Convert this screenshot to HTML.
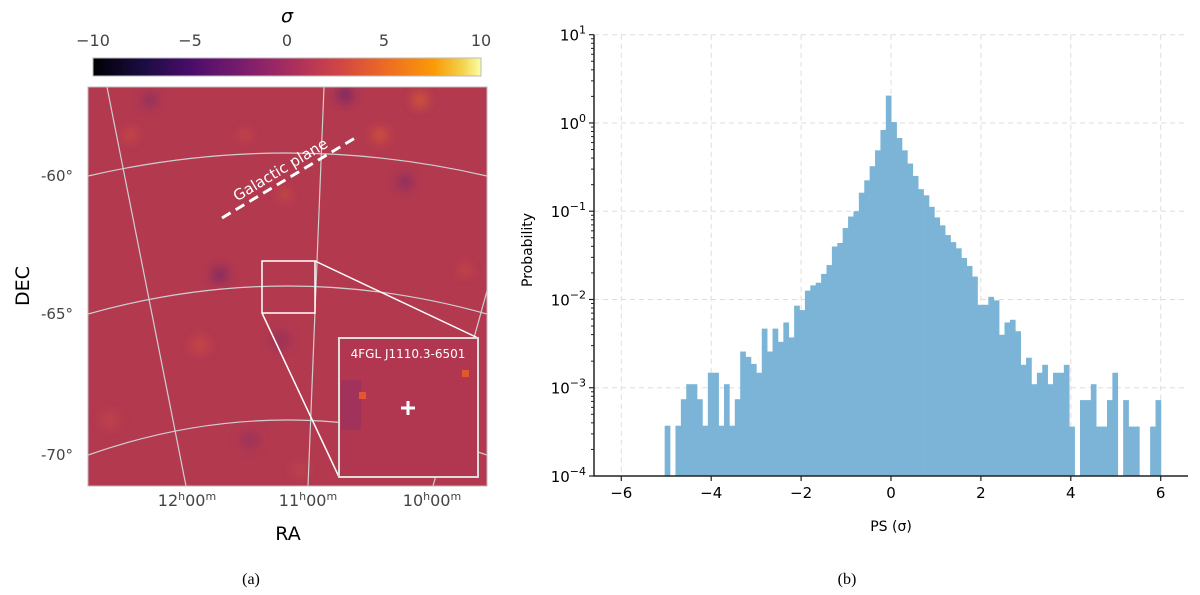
<!DOCTYPE html>
<html><head><meta charset="utf-8"><style>
html,body{margin:0;padding:0;background:#fff;}
svg{display:block;font-family:"DejaVu Sans","Liberation Sans",sans-serif;}
</style></head><body>
<svg width="1200" height="595" viewBox="0 0 1200 595" xmlns="http://www.w3.org/2000/svg">
<defs>
<linearGradient id="inferno" x1="0" x2="1" y1="0" y2="0">
<stop offset="0" stop-color="#000004"/><stop offset="0.13" stop-color="#1b0c41"/>
<stop offset="0.25" stop-color="#4a0c6b"/><stop offset="0.38" stop-color="#781c6d"/>
<stop offset="0.5" stop-color="#a52c60"/><stop offset="0.63" stop-color="#cf4446"/>
<stop offset="0.75" stop-color="#ed6925"/><stop offset="0.88" stop-color="#fb9b06"/>
<stop offset="0.95" stop-color="#f3d04a"/><stop offset="1" stop-color="#fcffa4"/>
</linearGradient>
<filter id="blur"><feGaussianBlur stdDeviation="5"/></filter>
<clipPath id="mapclip"><rect x="88" y="87" width="399" height="399"/></clipPath>
</defs>

<g>
<text x="287" y="22" font-size="19" font-style="italic" text-anchor="middle">σ</text>
<g font-size="16" fill="#444" text-anchor="middle">
<text x="93" y="46">−10</text><text x="190" y="46">−5</text><text x="287" y="46">0</text><text x="384" y="46">5</text><text x="481" y="46">10</text>
</g>
<rect x="93" y="58" width="388" height="18" fill="url(#inferno)" stroke="#bbb"/>
</g>

<g>
<g clip-path="url(#mapclip)">
<rect x="88" y="87" width="399" height="399" fill="#b3394f"/>
<g filter="url(#blur)" opacity="0.55">
<circle cx="150" cy="100" r="8" fill="#7a2a6a"/>
<circle cx="345" cy="95" r="9" fill="#5e2270"/>
<circle cx="220" cy="275" r="9" fill="#6a2470"/>
<circle cx="405" cy="182" r="9" fill="#7a2a6a"/>
<circle cx="280" cy="340" r="10" fill="#8a2f62"/>
<circle cx="250" cy="440" r="10" fill="#8f3060"/>
<circle cx="420" cy="100" r="8" fill="#e86a2a"/>
<circle cx="380" cy="135" r="8" fill="#e6622f"/>
<circle cx="130" cy="135" r="7" fill="#d8553a"/>
<circle cx="200" cy="345" r="9" fill="#d4503c"/>
<circle cx="285" cy="195" r="6" fill="#db5a37"/>
<circle cx="245" cy="135" r="6" fill="#d4503c"/>
<circle cx="465" cy="270" r="6" fill="#d4503c"/>
<circle cx="110" cy="420" r="9" fill="#c9484a"/>
<circle cx="300" cy="470" r="8" fill="#c9484a"/>
</g>
<g fill="none" stroke="#cfcfcf" stroke-width="1.2">
<line x1="107" y1="87" x2="186" y2="486"/>
<line x1="324" y1="87" x2="308" y2="486"/>
<line x1="490" y1="280" x2="433" y2="486"/>
<path d="M88,176 Q287,130 487,176"/>
<path d="M88,314 Q287,258 487,314"/>
<path d="M88,455 Q287,385 487,455"/>
</g>
</g>
<rect x="88" y="87" width="399" height="399" fill="none" stroke="#bbb"/>
<line x1="222" y1="218" x2="355" y2="138" stroke="#fff" stroke-width="3" stroke-dasharray="10,6"/>
<text x="0" y="0" transform="translate(283,174) rotate(-31)" fill="#fff" font-size="15" text-anchor="middle">Galactic plane</text>
<rect x="262" y="261" width="53" height="52" fill="none" stroke="#fff" stroke-width="1.5"/>
<line x1="315" y1="261" x2="478" y2="338" stroke="#fff" stroke-width="1.5"/>
<line x1="262" y1="313" x2="339" y2="477" stroke="#fff" stroke-width="1.5"/>
<g>
<rect x="339" y="338" width="139" height="139" fill="#b13650" stroke="#ddd" stroke-width="2"/>
<rect x="341" y="380" width="20" height="50" fill="#9a3160" opacity="0.7"/>
<rect x="359" y="392" width="7" height="7" fill="#e2572e"/>
<rect x="462" y="370" width="7" height="7" fill="#e2572e"/>
<text x="408" y="358" fill="#fff" font-size="12" text-anchor="middle">4FGL J1110.3-6501</text>
<path d="M408,401 V415 M401,408 H415" stroke="#fff" stroke-width="3"/>
</g>
<g font-size="15" fill="#444">
<text x="41" y="181">-60°</text><text x="41" y="319">-65°</text><text x="41" y="460">-70°</text>
</g>
<g font-size="16" fill="#444" text-anchor="middle">
<text x="187" y="506">12<tspan font-size="11" dy="-6">h</tspan><tspan dy="6">00</tspan><tspan font-size="11" dy="-6">m</tspan></text>
<text x="308" y="506">11<tspan font-size="11" dy="-6">h</tspan><tspan dy="6">00</tspan><tspan font-size="11" dy="-6">m</tspan></text>
<text x="432" y="506">10<tspan font-size="11" dy="-6">h</tspan><tspan dy="6">00</tspan><tspan font-size="11" dy="-6">m</tspan></text>
</g>
<text x="0" y="0" transform="translate(29,286) rotate(-90)" font-size="19" text-anchor="middle">DEC</text>
<text x="288" y="540" font-size="19" text-anchor="middle">RA</text>
</g>
<text x="251" y="584" font-size="16" font-family="Liberation Serif, serif" text-anchor="middle">(a)</text>
<text x="847" y="584" font-size="16" font-family="Liberation Serif, serif" text-anchor="middle">(b)</text>

<g id="hist"></g>

<script>
const binStart = -5.035;
const binWidth = 0.12;
const logProb = [
-3.43,null,-3.43,-3.13,-2.96,-2.96,-3.13,-3.43,-2.83,-2.83,-3.43,-2.96,-3.43,-3.13,-2.59,-2.65,-2.73,-2.83,-2.33,-2.59,
-2.33,-2.48,-2.26,-2.43,-2.07,-2.12,-1.90,-1.84,-1.81,-1.71,-1.61,-1.40,-1.36,-1.19,-1.06,-1.00,-0.79,-0.65,-0.49,-0.31,
-0.08,0.31,0.01,-0.17,-0.31,-0.46,-0.60,-0.75,-0.82,-0.95,-1.07,-1.16,-1.27,-1.35,-1.42,-1.53,-1.62,-1.74,-2.06,-2.06,
-1.97,-2.01,-2.40,-2.26,-2.23,-2.36,-2.74,-2.66,-2.96,-2.83,-2.74,-2.96,-2.83,-2.83,-2.74,-3.44,null,-3.14,-3.14,-2.96,
-3.44,-3.44,-3.14,-2.83,null,-3.14,-3.44,-3.44,null,null,-3.44,-3.14
];
const xTicks = [-6,-4,-2,0,2,4,6];
const xTickLabels = ["−6","−4","−2","0","2","4","6"];
const yDecades = [1,0,-1,-2,-3,-4];
const yExpLabels = ["1","0","−1","−2","−3","−4"];

const NS = "http://www.w3.org/2000/svg";
const X0 = 594, X1 = 1188, Y0 = 476, YTOP = 34.7;
function xs(v){ return 891 + v*44.95; }
function ys(l){ return Y0 - (l + 4)*88.26; }
const g = document.getElementById('hist');
function mk(tag, attrs, parent){ const e = document.createElementNS(NS, tag); for (const k in attrs) e.setAttribute(k, attrs[k]); (parent||g).appendChild(e); return e; }

xTicks.forEach(t => {
  const l = mk('line',{x1:xs(t),x2:xs(t),y1:YTOP,y2:Y0,stroke:'#ddd','stroke-dasharray':'5,4'});
  
  
});
yDecades.forEach(d => {
  const l = mk('line',{x1:X0,x2:X1,y1:ys(d),y2:ys(d),stroke:'#ddd','stroke-dasharray':'5,4'});
  
  
});
logProb.forEach((v,i) => {
  if (v === null) return;
  const x = xs(binStart + i*binWidth), w = xs(binStart + (i+1)*binWidth) - x;
  const r = mk('rect',{x:x,y:ys(v),width:w+0.3,height:Y0-ys(v),fill:'#7bb4d6'});
  
  
});
const ax = mk('path',{d:`M${X0},${YTOP} V${Y0} H${X1}`,stroke:'#222','stroke-width':1.5,fill:'none'});


xTicks.forEach((t,i) => {
  mk('line',{x1:xs(t),x2:xs(t),y1:Y0,y2:Y0+5,stroke:'#222','stroke-width':1.2});
  const tx = mk('text',{x:xs(t),y:Y0+22,'font-size':15,'text-anchor':'middle'});
  tx.textContent = xTickLabels[i];
  
  
});
yDecades.forEach((d,i) => {
  const y = ys(d);
  mk('line',{x1:X0-5,x2:X0,y1:y,y2:y,stroke:'#222','stroke-width':1.2});
  if (d > -4) for (let m=2;m<10;m++){ const yy = ys(d-1+Math.log10(m)); mk('line',{x1:X0-3,x2:X0,y1:yy,y2:yy,stroke:'#222','stroke-width':1}); }
  const tx = mk('text',{x:X0-8,y:y+6,'font-size':15,'text-anchor':'end'});
  
  
  const b = mk('tspan',{},tx); b.textContent = '10';
  const e = mk('tspan',{'font-size':11,dy:-7},tx); e.textContent = yExpLabels[i];
});
const yt = mk('text',{transform:'translate(532,250) rotate(-90)','font-size':14,'text-anchor':'middle'});
yt.textContent = 'Probability';


const xt = mk('text',{x:891,y:531,'font-size':14,'text-anchor':'middle'});
xt.textContent = 'PS (σ)';


</script>
</svg>
</body></html>
